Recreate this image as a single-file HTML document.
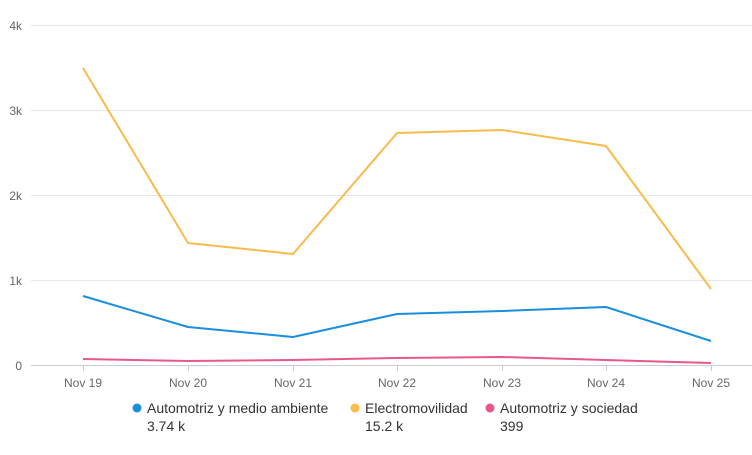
<!DOCTYPE html>
<html><head><style>
body{margin:0;background:#fff;}
svg{display:block;font-family:"Liberation Sans",Arial,sans-serif;}
</style></head><body>
<svg width="752" height="455" viewBox="0 0 752 455">
<g stroke="#e6e6e6" stroke-width="1">
<line x1="31" x2="752" y1="25.5" y2="25.5"/>
<line x1="31" x2="752" y1="110.5" y2="110.5"/>
<line x1="31" x2="752" y1="195.5" y2="195.5"/>
<line x1="31" x2="752" y1="280.5" y2="280.5"/>
</g>
<line x1="31" x2="752" y1="365.5" y2="365.5" stroke="#ccc"/>
<g stroke="#ccc">
<line x1="83.5" x2="83.5" y1="365" y2="371"/>
<line x1="188.5" x2="188.5" y1="365" y2="371"/>
<line x1="293.5" x2="293.5" y1="365" y2="371"/>
<line x1="397.5" x2="397.5" y1="365" y2="371"/>
<line x1="502.5" x2="502.5" y1="365" y2="371"/>
<line x1="606.5" x2="606.5" y1="365" y2="371"/>
<line x1="711.5" x2="711.5" y1="365" y2="371"/>
</g>
<g fill="#666" font-size="12" text-anchor="end">
<text x="22" y="30">4k</text>
<text x="22" y="115">3k</text>
<text x="22" y="200">2k</text>
<text x="22" y="285">1k</text>
<text x="22" y="370">0</text>
</g>
<g fill="#666" font-size="12" text-anchor="middle">
<text x="83" y="387">Nov 19</text>
<text x="188" y="387">Nov 20</text>
<text x="293" y="387">Nov 21</text>
<text x="397" y="387">Nov 22</text>
<text x="502" y="387">Nov 23</text>
<text x="606" y="387">Nov 24</text>
<text x="711" y="387">Nov 25</text>
</g>
<g fill="none" stroke-width="2" stroke-linejoin="round">
<polyline stroke="#f7bc4a" points="83,68 188,243 293,254 397,133 502,130 606,146 711,289"/>
<polyline stroke="#1a8fdd" points="83,296 188,327 293,337 397,314 502,311 606,307 711,341"/>
<polyline stroke="#e8598a" points="83,359 188,361 293,360 397,358 502,357 606,360 711,363"/>
</g>
<g font-size="14" fill="#333">
<circle cx="137" cy="408" r="4.5" fill="#1a8fdd"/>
<text x="147" y="413">Automotriz y medio ambiente</text>
<text x="147" y="431">3.74 k</text>
<circle cx="355" cy="408" r="4.5" fill="#f7bc4a"/>
<text x="365" y="413">Electromovilidad</text>
<text x="365" y="431">15.2 k</text>
<circle cx="490" cy="408" r="4.5" fill="#e8598a"/>
<text x="500" y="413">Automotriz y sociedad</text>
<text x="500" y="431">399</text>
</g>
</svg>
</body></html>
